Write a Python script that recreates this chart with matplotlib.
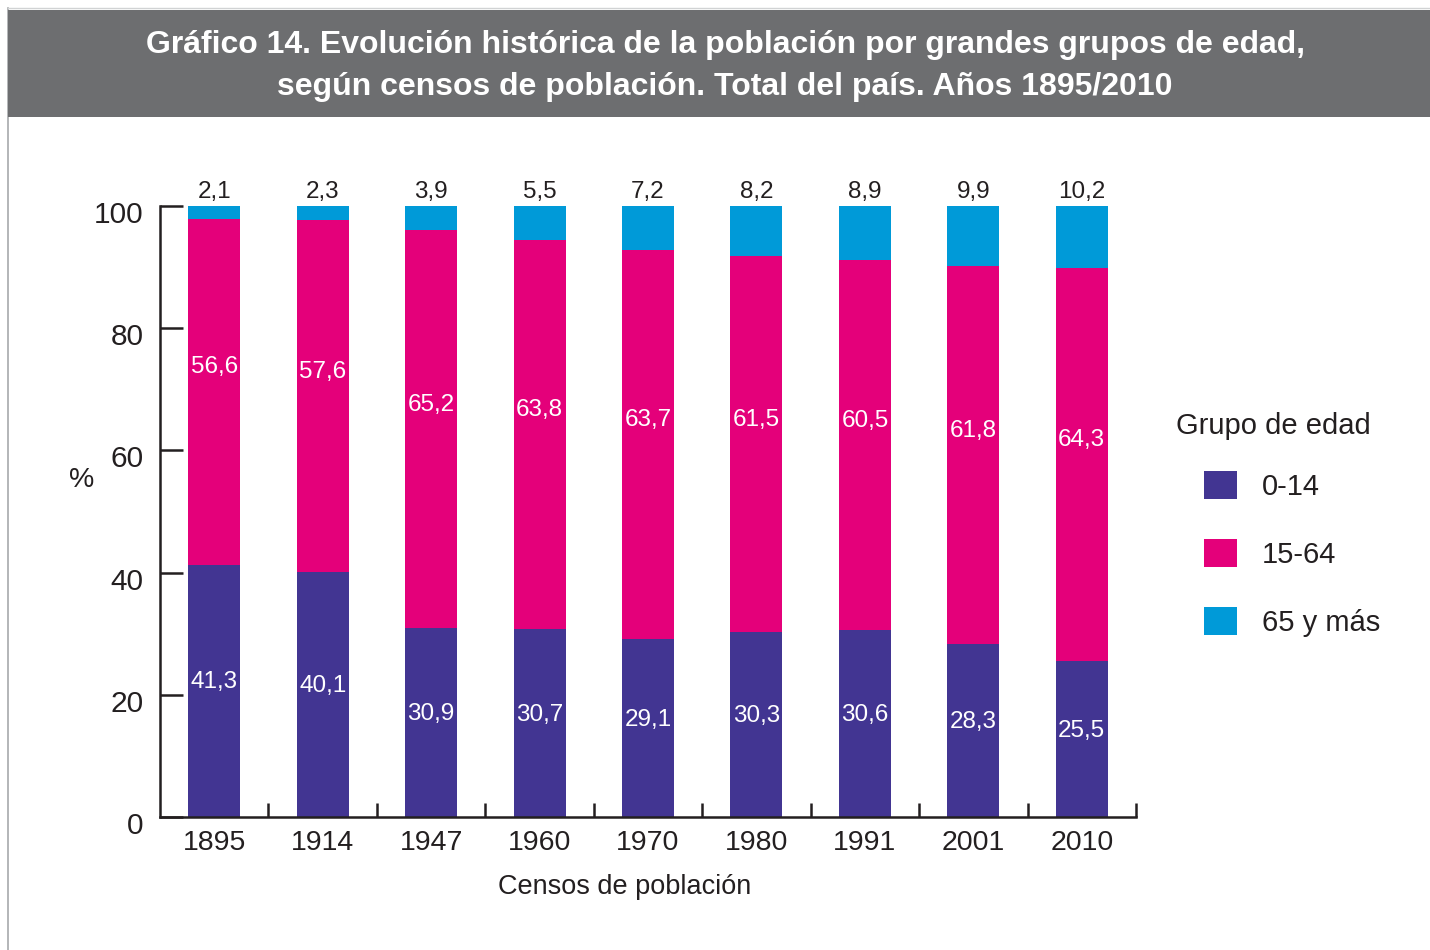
import matplotlib
matplotlib.use("Agg")
import matplotlib.pyplot as plt
from matplotlib.patches import Rectangle
from matplotlib.lines import Line2D
import matplotlib.transforms as mtransforms
import numpy as np

plt.rcParams['font.family'] = ['Liberation Sans', 'DejaVu Sans']

years = ['1895', '1914', '1947', '1960', '1970', '1980', '1991', '2001', '2010']
grp_0_14 = [41.3, 40.1, 30.9, 30.7, 29.1, 30.3, 30.6, 28.3, 25.5]
grp_15_64 = [56.6, 57.6, 65.2, 63.8, 63.7, 61.5, 60.5, 61.8, 64.3]
grp_65 = [2.1, 2.3, 3.9, 5.5, 7.2, 8.2, 8.9, 9.9, 10.2]
series_labels = ['0-14', '15-64', '65 y más']
title_text = ('Gráfico 14. Evolución histórica de la población por grandes grupos de edad,\n'
              'según censos de población. Total del país. Años 1895/2010')
xlabel_text = 'Censos de población'
ylabel_text = '%'
legend_title = 'Grupo de edad'

c_purple = '#423592'
c_pink = '#e4007a'
c_cyan = '#009ad8'
c_text = '#231f20'
c_band = '#6d6e70'

W, H = 1430, 950
fig = plt.figure(figsize=(W / 100, H / 100), dpi=100)

def fx(px):
    return px / W

def fy(py):
    return 1 - py / H

# frame lines & title band
fig.lines.append(Line2D([fx(8), fx(8)], [0, fy(8)], transform=fig.transFigure,
                        color='#a7a9ac', linewidth=1.2, zorder=-2))
fig.lines.append(Line2D([fx(8), 1], [fy(8), fy(8)], transform=fig.transFigure,
                        color='#d1d3d4', linewidth=1.0, zorder=-2))
fig.patches.append(Rectangle((fx(8), fy(117)), 1 - fx(8), fy(10) - fy(117), transform=fig.transFigure,
                             facecolor=c_band, edgecolor='none', zorder=-1))
fig.text(fx(725), fy(66), title_text, ha='center', va='center', color='white',
         fontsize=23, fontweight='bold', linespacing=1.5)

ax = fig.add_axes([fx(160), fy(817), fx(1136) - fx(160), fy(206) - fy(817)])
ax.set_zorder(2)
ax.patch.set_alpha(0)
x = np.arange(len(years))
w = 0.48
b1 = ax.bar(x, grp_0_14, width=w, color=c_purple, label=series_labels[0], zorder=2)
b2 = ax.bar(x, grp_15_64, width=w, bottom=grp_0_14, color=c_pink, label=series_labels[1], zorder=2)
bottom3 = np.array(grp_0_14) + np.array(grp_15_64)
b3 = ax.bar(x, grp_65, width=w, bottom=bottom3, color=c_cyan, label=series_labels[2], zorder=2)

def fmt(v):
    return f'{v:.1f}'.replace('.', ',')

for i in range(len(years)):
    ax.text(x[i], grp_0_14[i] / 2 + 1.4, fmt(grp_0_14[i]), ha='center', va='center',
            color='white', fontsize=17.5, zorder=3)
    ax.text(x[i], grp_0_14[i] + grp_15_64[i] / 2 + 4.0, fmt(grp_15_64[i]), ha='center', va='center',
            color='white', fontsize=17.5, zorder=3)
    ax.annotate(fmt(grp_65[i]), (x[i], 100), xytext=(0, 2), textcoords='offset points',
                ha='center', va='bottom', color=c_text, fontsize=17.5, annotation_clip=False)

ax.set_xlim(-0.5, len(years) - 0.5)
ax.set_ylim(0, 100)
for s in ['top', 'right']:
    ax.spines[s].set_visible(False)
for s in ['left', 'bottom']:
    ax.spines[s].set_linewidth(1.8)
    ax.spines[s].set_color(c_text)
    ax.spines[s].set_zorder(4)

ax.set_yticks([0, 20, 40, 60, 80, 100])
ax.tick_params(axis='y', direction='in', length=16.5, width=1.8, color=c_text,
               labelsize=21.5, labelcolor=c_text, pad=12)
shift = mtransforms.ScaledTranslation(0, -6 / 100, fig.dpi_scale_trans)
for lab in ax.get_yticklabels():
    lab.set_transform(lab.get_transform() + shift)
ax.set_xticks(np.arange(0.5, len(years), 1.0))
ax.set_xticklabels([])
ax.tick_params(axis='x', which='major', direction='in', length=10, width=1.8, color=c_text)
ax.set_xticks(x, minor=True)
ax.set_xticklabels(years, minor=True)
ax.tick_params(axis='x', which='minor', length=0, labelsize=20.5, labelcolor=c_text, pad=9)

fig.text(fx(625), fy(887), xlabel_text, ha='center', va='center', fontsize=19.5, color=c_text)
fig.text(fx(82), fy(480), ylabel_text, ha='center', va='center', fontsize=20.5, color=c_text)

fig.text(fx(1176), fy(426), legend_title, ha='left', va='center', fontsize=21, color=c_text)
fig.legend(handles=[b1, b2, b3], labels=series_labels, loc='upper left',
           bbox_to_anchor=(fx(1189), fy(456)), frameon=False, fontsize=21,
           handlelength=1.13, handleheight=1.13, handletextpad=0.86, labelspacing=1.3,
           borderpad=0, labelcolor=c_text)

fig.savefig('out.png', dpi=100)
